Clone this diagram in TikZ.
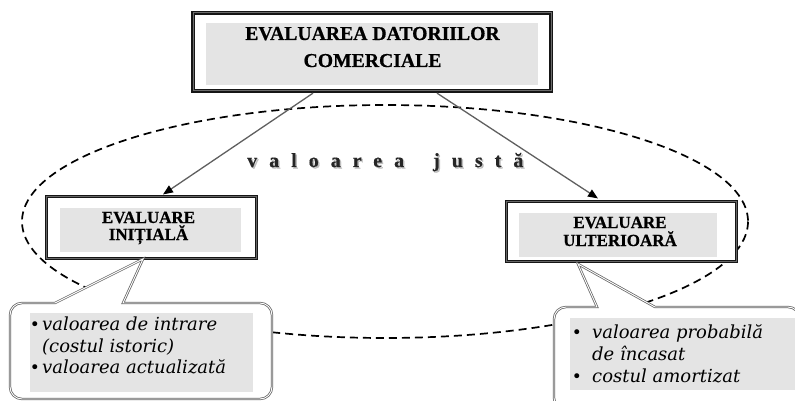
\documentclass[tikz,border=0pt]{standalone}
\usepackage{fontspec}
\setmainfont{Liberation Serif}
\newfontfamily\titlefont[FakeBold=0.6]{Liberation Serif}
\newfontfamily\listfont{DejaVu Serif}
\newfontfamily\spacedfont[LetterSpace=60,FakeBold=0.5]{Liberation Serif}
\usetikzlibrary{arrows.meta,calc}
\definecolor{boxgray}{RGB}{228,228,228}
\definecolor{framedark}{RGB}{22,22,22}
\definecolor{arrowgray}{RGB}{95,95,95}
\definecolor{callgray}{RGB}{100,100,100}
\begin{document}
\begin{tikzpicture}[x=1pt,y=-1pt,
  frame/.style={draw=framedark, line width=1.3pt, double=gray!85!black, double distance=1pt, fill=white, inner sep=0pt},
  subframe/.style={draw=framedark, line width=1.1pt, double=gray!80!black, double distance=0.8pt, fill=white, inner sep=0pt},
  shadebox/.style={fill=boxgray, inner sep=0pt},
  toptitle/.style={font=\titlefont\bfseries\fontsize{19.7}{20}\selectfont, anchor=base, inner sep=0pt},
  subtitle/.style={font=\titlefont\bfseries\fontsize{17}{17}\selectfont, anchor=base, inner sep=0pt},
  listline/.style={font=\listfont\itshape\fontsize{18}{18}\selectfont, anchor=base west, inner sep=0pt},
  bulletmark/.style={font=\listfont\fontsize{17}{17}\selectfont, anchor=base, inner sep=0pt},
  callout/.style={draw=callgray, line width=0.75pt, double=white, double distance=0.9pt, fill=white},
  link/.style={draw=arrowgray, line width=1.3pt, -{Triangle[length=10pt,width=8pt,color=black]}},
  spaced/.style={anchor=base west, inner sep=0pt, font=\spacedfont\bfseries\fontsize{20}{20}\selectfont},
]
\useasboundingbox (0,0) rectangle (795,401);
\clip (0,0) rectangle (795,401);

% dashed ellipse of the fair value
\draw[black, line width=1.7pt, dash pattern=on 8pt off 5pt] (385,221.5) ellipse [x radius=363, y radius=116.5];

% main box
\node[frame, minimum width=358pt, minimum height=78pt] (top) at (372,52) {};
\node[shadebox, minimum width=332pt, minimum height=62pt] (topfill) at (372,54) {};
\node[toptitle] (toptext1) at (372.5,40) {EVALUAREA DATORIILOR};
\node[toptitle] (toptext2) at (372.5,67) {COMERCIALE};

% initial evaluation box
\node[subframe, minimum width=210pt, minimum height=62pt] (lbox) at (151.5,227.5) {};
\node[shadebox, minimum width=181pt, minimum height=44pt] (lfill) at (150.5,230) {};
\node[subtitle] (ltext1) at (148.5,223) {EVALUARE};
\node[subtitle] (ltext2) at (148.5,240) {INIȚIALĂ};

% subsequent evaluation box
\node[subframe, minimum width=230pt, minimum height=60pt] (rbox) at (621.5,231.5) {};
\node[shadebox, minimum width=198pt, minimum height=44pt] (rfill) at (618,235) {};
\node[subtitle] (rtext1) at (620,228) {EVALUARE};
\node[subtitle] (rtext2) at (620,246) {ULTERIOARĂ};

% connectors
\draw[link] ($(top.south)+(-59,1.5)$) -- ($(lbox.north)+(11.5,-1.5)$);
\draw[link] ($(top.south)+(65,1.5)$) -- ($(rbox.north)+(-23.5,-2.5)$);

% spaced label with a soft shadow
\node[spaced, text=gray!50] (vjshadow) at (248.5,168.5) {valoarea\hspace{12pt} justă};
\node[spaced, text=black!85] (vj) at (247,167) {valoarea\hspace{12pt} justă};

% left callout
\draw[callout] (55,303) -- (143,259) -- (123,303) -- (260,303)
  arc[start angle=270, end angle=360, radius=12] -- (272,387)
  arc[start angle=0, end angle=90, radius=12] -- (22,399)
  arc[start angle=90, end angle=180, radius=12] -- (10,315)
  arc[start angle=180, end angle=270, radius=12] -- cycle;
\node[shadebox, minimum width=223pt, minimum height=79pt] (lcfill) at (141.5,352.5) {};
\node[bulletmark] (lb1) at (35,330) {•};
\node[listline] (ll1) at (42,330) {valoarea de intrare};
\node[listline] (ll2) at (42,352) {(costul istoric)};
\node[bulletmark] (lb2) at (35,373) {•};
\node[listline] (ll3) at (42,373) {valoarea actualizată};

% right callout
\draw[callout] (597,307) -- (578,264) -- (655,307) -- (788,307)
  arc[start angle=270, end angle=360, radius=12] -- (800,398)
  arc[start angle=0, end angle=90, radius=12] -- (566,410)
  arc[start angle=90, end angle=180, radius=12] -- (554,319)
  arc[start angle=180, end angle=270, radius=12] -- cycle;
\node[shadebox, minimum width=230pt, minimum height=72pt] (rcfill) at (685,354) {};
\node[bulletmark] (rb1) at (577,338) {•};
\node[listline] (rl1) at (592,338) {valoarea probabilă};
\node[listline] (rl2) at (592,360) {de încasat};
\node[bulletmark] (rb2) at (577,382) {•};
\node[listline] (rl3) at (592,382) {costul amortizat};
\end{tikzpicture}
\end{document}
